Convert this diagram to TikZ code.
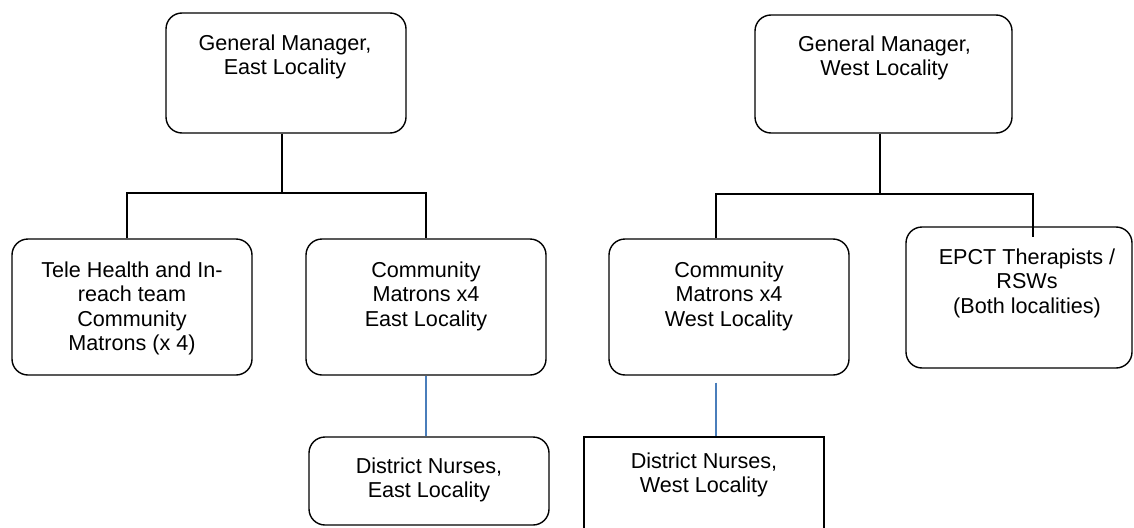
\documentclass[tikz,border=0pt]{standalone}
\usepackage{fontspec}
\setmainfont{Liberation Sans}
\definecolor{lineblue}{RGB}{74,126,187}
\begin{document}
\begin{tikzpicture}[x=1pt,y=-1pt,
  box/.style={draw, line width=1.4pt, rounded corners=16pt, inner sep=0pt},
  sqbox/.style={draw, line width=1.4pt, inner sep=0pt},
  lbl/.style={anchor=north, align=center, inner sep=0pt, font=\fontsize{21.6}{24.6}\selectfont},
  conn/.style={line width=1.3pt},
  bconn/.style={line width=1.2pt, draw=lineblue}]
\useasboundingbox (0,0) rectangle (1134,527);

% boxes
\node[box, minimum width=240pt, minimum height=120pt] (gmE) at (286,73) {};
\node[box, minimum width=257pt, minimum height=118pt] (gmW) at (883.5,74) {};
\node[box, minimum width=240pt, minimum height=136pt] (tele) at (132,307) {};
\node[box, minimum width=240pt, minimum height=136pt] (cmE) at (426,307) {};
\node[box, minimum width=240pt, minimum height=136pt] (cmW) at (729,307) {};
\node[box, minimum width=240pt, minimum height=88pt] (dnE) at (429,481) {};
\node[sqbox, minimum width=240pt, minimum height=120pt] (dnW) at (704,497) {};
\node[box, minimum width=226pt, minimum height=141pt] (epct) at (1019,297.5) {};

% labels
\node[lbl] (lgmE) at ([xshift=-1pt,yshift=-22pt]gmE.north) {General Manager,\\East Locality};
\node[lbl] (lgmW) at ([xshift=1pt,yshift=-21pt]gmW.north) {General Manager,\\West Locality};
\node[lbl] (ltele) at ([yshift=-23pt]tele.north) {Tele Health and In-\\reach team\\Community\\Matrons (x 4)};
\node[lbl] (lcmE) at ([yshift=-23pt]cmE.north) {Community\\Matrons x4\\East Locality};
\node[lbl] (lcmW) at ([yshift=-23pt]cmW.north) {Community\\Matrons x4\\West Locality};
\node[lbl] (ldnE) at ([yshift=-21pt]dnE.north) {District Nurses,\\East Locality};
\node[lbl] (ldnW) at ([yshift=-16pt]dnW.north) {District Nurses,\\West Locality};
\node[lbl] (lepct) at ([xshift=8pt,yshift=-22pt]epct.north) {EPCT Therapists /\\RSWs\\(Both localities)};

% east connectors
\coordinate (jE) at (282,193);
\draw[conn] (gmE.south -| jE) -- (jE);
\draw[conn] ([xshift=-5pt]tele.north) |- (jE) -| (cmE.north);

% west connectors
\coordinate (jW) at (880,194);
\draw[conn] (gmW.south -| jW) -- (jW);
\draw[conn] ([xshift=-13pt]cmW.north) |- (jW) -| ([xshift=14pt,yshift=-11pt]epct.north);

% blue connectors
\draw[bconn] (cmE.south) -- (cmE.south |- dnE.north);
\draw[bconn] ([xshift=-13pt,yshift=-7pt]cmW.south) -- ([xshift=-13pt]cmW.south |- dnW.north);
\end{tikzpicture}
\end{document}
